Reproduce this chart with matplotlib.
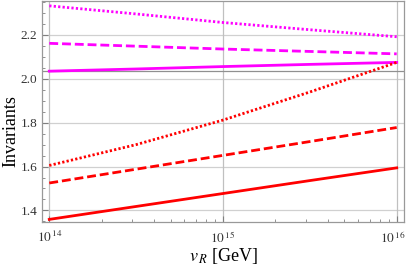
import numpy as np
import matplotlib
matplotlib.use('Agg')
import matplotlib.pyplot as plt
import matplotlib.transforms as mtransforms
from matplotlib.ticker import FixedLocator, NullFormatter, MultipleLocator

# v_R values (GeV) and invariants
vR = [1e14, 10**14.5, 1e15, 10**15.5, 1e16]

mag_dotted = [2.333, 2.296, 2.257, 2.224, 2.192]
mag_dashed = [2.162, 2.149, 2.136, 2.125, 2.114]
mag_solid = [2.035, 2.045, 2.056, 2.066, 2.075]

red_dotted = [1.605, 1.700, 1.812, 1.940, 2.075]
red_dashed = [1.525, 1.588, 1.651, 1.714, 1.778]
red_solid = [1.359, 1.418, 1.477, 1.536, 1.594]

ref_level = 2.035

plt.rcParams['font.family'] = ['Liberation Serif', 'DejaVu Serif']
plt.rcParams['mathtext.fontset'] = 'stix'

fig = plt.figure(figsize=(4.07, 2.65), dpi=100)
ax = fig.add_axes([0.104, 0.163, 0.8886, 0.834])

ax.set_xscale('log')
ax.set_xlim(10**13.96, 10**16.042)
ax.set_ylim(1.348, 2.356)

# grid
for y in [1.4, 1.6, 1.8, 2.0, 2.2]:
    ax.axhline(y, color='#d0d0d0', lw=0.9, zorder=0)
for x in [1e14, 1e15, 1e16]:
    ax.axvline(x, color='#c0c0c0', lw=0.9, zorder=0)
ax.axhline(ref_level, color='#909090', lw=0.9, zorder=0)

m = '#ff00ff'
r = '#ff0000'
dot = (0, (0.8, 0.8))
dash = (0, (3.2, 1.4))
ax.plot(vR, mag_dotted, color=m, lw=2.0, ls=dot)
ax.plot(vR, mag_dashed, color=m, lw=2.0, ls=dash)
ax.plot(vR, mag_solid, color=m, lw=2.0)
ax.plot(vR, red_dotted, color=r, lw=2.0, ls=dot)
ax.plot(vR, red_dashed, color=r, lw=2.0, ls=dash)
ax.plot(vR, red_solid, color=r, lw=2.0)

ax.set_xticks([1e14, 1e15, 1e16])
ax.set_xticklabels([r'$10^{\,14}$', r'$10^{\,15}$', r'$10^{\,16}$'])
minors = [k * 10**e for e in (14, 15) for k in range(2, 10)]
ax.xaxis.set_minor_locator(FixedLocator(minors))
ax.xaxis.set_minor_formatter(NullFormatter())
ax.yaxis.set_major_locator(MultipleLocator(0.2))
ax.yaxis.set_minor_locator(MultipleLocator(0.05))

ax.tick_params(which='both', direction='in', color='#808080',
               top=False, right=False, labelsize=9.5, labelcolor='#333333')
ax.tick_params(which='major', length=4.5, width=0.8)
ax.tick_params(which='minor', length=2.5, width=0.6)
ax.tick_params(axis='x', pad=6)

# keep the last x label inside the figure
last = ax.get_xticklabels()[-1]
last.set_transform(last.get_transform() +
                   mtransforms.ScaledTranslation(-4 / 100, 0, fig.dpi_scale_trans))

for s in ax.spines.values():
    s.set_color('#999999')
    s.set_linewidth(0.9)

ax.set_ylabel('Invariants', fontsize=13)
ax.yaxis.set_label_coords(-0.064, 0.41)
ax.set_xlabel(r'$v_{\,R}$ [GeV]', fontsize=13, labelpad=0)

fig.savefig('out.png', dpi=100)
